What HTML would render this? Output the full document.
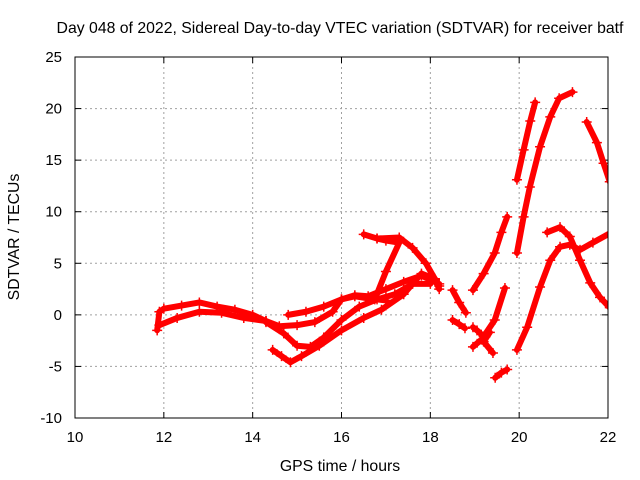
<!DOCTYPE html>
<html><head><meta charset="utf-8"><style>
body{margin:0;background:#fff}
svg{display:block;font-family:"Liberation Sans",sans-serif}
</style></head><body>
<svg id="chart" width="640" height="480" viewBox="0 0 640 480">
<rect width="640" height="480" fill="#fff"/>
<text x="340" y="33" font-size="15.8" text-anchor="middle">Day 048 of 2022, Sidereal Day-to-day VTEC variation (SDTVAR) for receiver batf</text>
<text x="340" y="471" font-size="15.8" text-anchor="middle">GPS time / hours</text>
<text transform="translate(19,237) rotate(-90)" font-size="15.8" text-anchor="middle">SDTVAR / TECUs</text>
<g id="grid"></g><g id="ticks"></g>
<defs><clipPath id="clip"><rect x="75" y="57" width="533" height="361"/></clipPath></defs>
<g id="series" clip-path="url(#clip)"></g>
<rect x="75" y="57" width="533" height="361" fill="none" stroke="#000" stroke-width="1"/>
</svg>
<script>
const xTicks=[10,12,14,16,18,20,22];
const yTicks=[-10,-5,0,5,10,15,20,25];
const trackUpper=[[11.85,-1.5],[11.9,0.3],[12.0,0.6],[12.4,0.9],[12.8,1.2],[13.2,0.8],[13.6,0.5],[14.0,0.0],[14.3,-0.6],[14.6,-1.1],[15.0,-1.0],[15.4,-0.7],[15.8,0.3],[16.0,1.5],[16.3,1.8],[16.6,1.6],[17.0,1.4]];
const trackLower=[[11.9,-1.0],[12.3,-0.3],[12.8,0.3],[13.3,0.2],[13.8,-0.3],[14.3,-0.6]];
const trackDip=[[14.3,-0.7],[14.7,-1.8],[15.0,-3.0],[15.3,-3.1],[15.6,-2.2],[16.0,-0.5],[16.4,0.8],[16.8,1.5],[17.2,2.0],[17.6,3.0],[18.0,3.0]];
const trackDeep=[[14.45,-3.4],[14.65,-4.0],[14.85,-4.6],[15.1,-4.0],[15.5,-3.0],[16.0,-1.5],[16.5,-0.3],[16.9,0.5],[17.4,2.0],[17.8,4.0],[18.1,3.5],[18.2,2.8]];
const trackMid=[[14.8,0.0],[15.2,0.3],[15.6,0.8],[16.0,1.5],[16.3,1.9],[16.6,1.8],[17.0,2.5],[17.4,3.2],[17.8,3.8],[18.2,3.0]];
const trackPeak=[[16.75,1.5],[17.0,4.2],[17.3,7.0],[17.0,7.2],[16.8,7.4],[16.5,7.8],[16.8,7.4],[17.3,7.5],[17.6,6.5],[17.9,5.0],[18.1,3.5],[18.2,2.5]];
const trackFragA=[[18.5,2.4],[18.65,1.2],[18.8,0.2]];
const trackFragB=[[18.5,-0.5],[18.65,-0.9],[18.78,-1.3]];
const trackRise1=[[18.96,2.4],[19.2,4.0],[19.45,6.0],[19.6,8.0],[19.73,9.5]];
const trackX1=[[19.68,2.6],[19.45,-0.5],[19.2,-2.1],[19.05,-1.5],[18.96,-1.2]];
const trackX2=[[18.96,-3.1],[19.15,-2.4],[19.34,-1.7],[19.2,-2.6],[19.41,-3.7]];
const trackLow=[[19.46,-6.1],[19.6,-5.6],[19.73,-5.3]];
const trackSteep=[[19.95,13.1],[20.1,16.0],[20.25,18.8],[20.36,20.6]];
const trackS=[[19.95,6.0],[20.1,9.5],[20.24,12.4],[20.47,16.3],[20.7,19.2],[20.9,21.0],[21.2,21.6]];
const trackBigRise=[[19.95,-3.4],[20.18,-1.2],[20.47,2.7],[20.7,5.3],[20.92,6.6],[21.14,6.8],[21.37,6.3],[21.66,7.0],[22.04,7.9]];
const trackDesc=[[20.63,8.0],[20.92,8.5],[21.14,7.6],[21.37,5.3],[21.6,3.1],[21.82,1.7],[22.04,0.7]];
const trackRight=[[21.52,18.7],[21.75,16.7],[21.9,14.7],[22.04,12.9]];
const tracks=[trackUpper,trackLower,trackDip,trackDeep,trackMid,trackPeak,trackFragA,trackFragB,trackRise1,trackX1,trackX2,trackLow,trackSteep,trackS,trackBigRise,trackDesc,trackRight];

const NS='http://www.w3.org/2000/svg';
const X=t=>75+(t-10)*533/12;
const Y=v=>418-(v+10)*361/35;
function mk(tag,attrs,parent){const e=document.createElementNS(NS,tag);for(const k in attrs)e.setAttribute(k,attrs[k]);parent.appendChild(e);return e;}
const grid=document.getElementById('grid'),ticks=document.getElementById('ticks'),series=document.getElementById('series');
xTicks.forEach(t=>{
  const x=X(t);
  if(t>10&&t<22){const g=mk('line',{x1:x,y1:57,x2:x,y2:418,stroke:'#a0a0a0','stroke-dasharray':'2,3'},grid);
  
  }
  mk('line',{x1:x,y1:418,x2:x,y2:412,stroke:'#000'},ticks);
  mk('line',{x1:x,y1:57,x2:x,y2:63,stroke:'#000'},ticks);
  const l=mk('text',{x:x,y:442,'font-size':15,'text-anchor':'middle'},ticks);l.textContent=t;
  
  
});
yTicks.forEach(v=>{
  const y=Y(v);
  if(v>-10&&v<25){const g=mk('line',{x1:75,y1:y,x2:608,y2:y,stroke:'#a0a0a0','stroke-dasharray':'2,3'},grid);
  
  }
  mk('line',{x1:75,y1:y,x2:81,y2:y,stroke:'#000'},ticks);
  mk('line',{x1:608,y1:y,x2:602,y2:y,stroke:'#000'},ticks);
  const l=mk('text',{x:62,y:y+5,'font-size':15,'text-anchor':'end'},ticks);l.textContent=v;
  
  
});
tracks.forEach(tr=>{
  const p=mk('polyline',{points:tr.map(d=>X(d[0])+','+Y(d[1])).join(' '),fill:'none',stroke:'#f00','stroke-width':6,'stroke-linejoin':'round','stroke-linecap':'round'},series);
  
  
  tr.forEach(d=>{
    const m=mk('path',{d:`M${X(d[0])-5},${Y(d[1])}h10M${X(d[0])},${Y(d[1])-5}v10`,stroke:'#f00','stroke-width':1.5},series);
    
    
  });
});
</script>
</body></html>
